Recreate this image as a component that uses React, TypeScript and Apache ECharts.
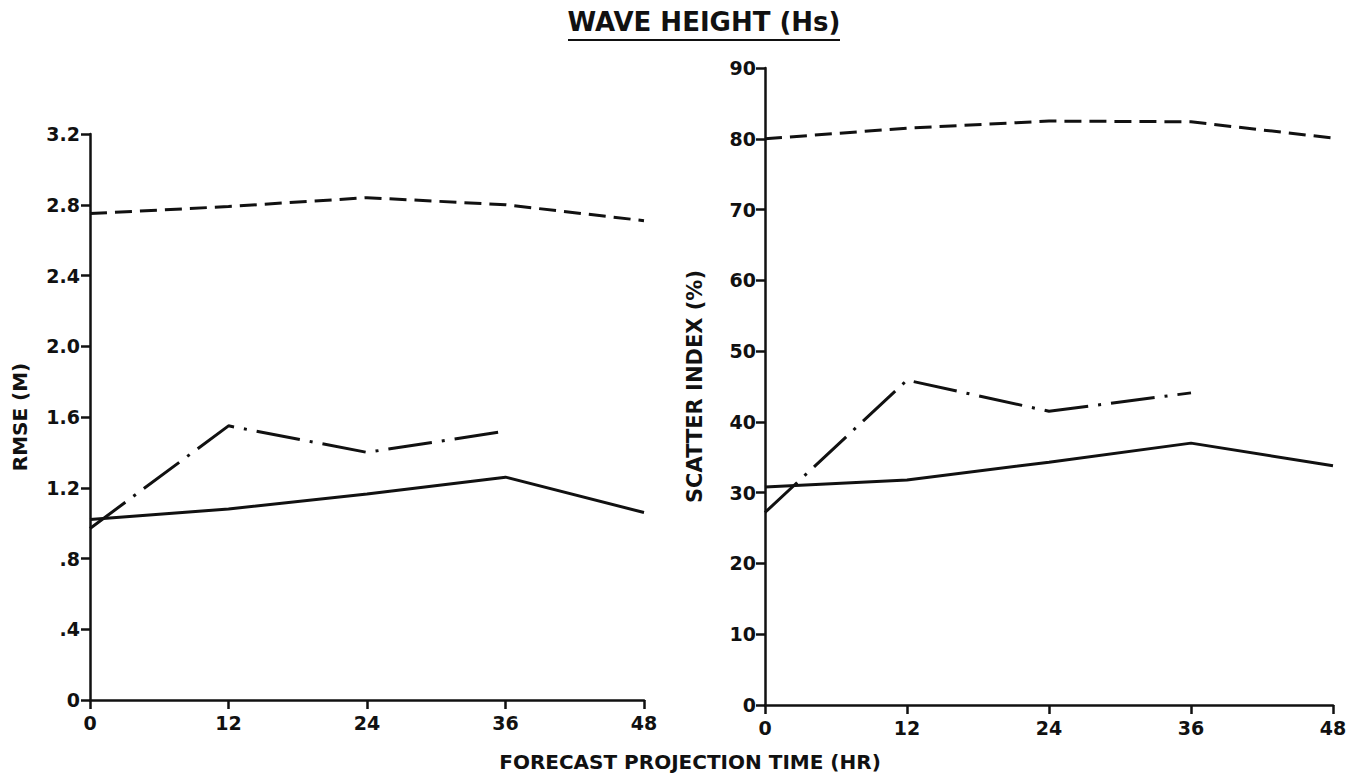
import React, { useEffect, useRef } from "react";
import * as echarts from "echarts";

const hours = [0, 12, 24, 36, 48];
const hoursShort = [0, 12, 24, 36];

const rmseDashed = [2.75, 2.79, 2.84, 2.8, 2.71];
const rmseDashDot = [0.97, 1.55, 1.4, 1.52];
const rmseSolid = [1.02, 1.08, 1.165, 1.26, 1.06];

const siDashed = [80.0, 81.5, 82.5, 82.4, 80.1];
const siDashDot = [27.2, 45.9, 41.5, 44.1];
const siSolid = [30.8, 31.8, 34.3, 37.0, 33.8];

const rmseTickLabels = ["0", ".4", ".8", "1.2", "1.6", "2.0", "2.4", "2.8", "3.2"];
const siTickLabels = ["0", "10", "20", "30", "40", "50", "60", "70", "80", "90"];
const hourTickLabels = ["0", "12", "24", "36", "48"];

const titleText = "WAVE HEIGHT (Hs)";
const xName = "FORECAST PROJECTION TIME (HR)";
const leftName = "RMSE (M)";
const rightName = "SCATTER INDEX (%)";

const FONT = "DejaVu Sans";
const INK = "#111";

const pair = (xs: number[], ys: number[]) => ys.map((y, i) => [xs[i], y]);

export default function App() {
  const ref = useRef<HTMLDivElement>(null);
  useEffect(() => {
    if (!ref.current) return;
    const chart = echarts.init(ref.current, null, { renderer: "svg" });
    const axisLine = { show: true, lineStyle: { color: INK, width: 2.5 } };
    const axisTick = { show: true, length: 9, lineStyle: { color: INK, width: 2.5 } };
    const labelStyle = { color: INK, fontFamily: FONT, fontWeight: "bold" as const, fontSize: 19 };
    const xAxisCommon = (gridIndex: number) => ({
      type: "value" as const,
      gridIndex,
      min: 0,
      max: 48,
      interval: 12,
      axisLine,
      axisTick,
      splitLine: { show: false },
      axisLabel: {
        ...labelStyle,
        margin: 13,
        formatter: (v: number) => hourTickLabels[Math.round(v / 12)] ?? "",
      },
    });
    const dashed = [17, 8];
    const dashDot = [44, 10, 3, 10];
    const mk = (name: string, x: number, data: number[][], type: any) => ({
      name,
      type: "line" as const,
      xAxisIndex: x,
      yAxisIndex: x,
      data,
      symbol: "none",
      lineStyle: { color: INK, width: 3, type },
      z: 5,
    });
    chart.setOption({
      animation: false,
      backgroundColor: "#fff",
      grid: [
        { left: 90, right: 720, top: 134, bottom: 78 },
        { left: 765, right: 31, top: 68, bottom: 73 },
      ],
      xAxis: [xAxisCommon(0), xAxisCommon(1)],
      yAxis: [
        {
          type: "value",
          gridIndex: 0,
          min: 0,
          max: 3.2,
          interval: 0.4,
          axisLine,
          axisTick,
          splitLine: { show: false },
          axisLabel: {
            ...labelStyle,
            margin: 10,
            formatter: (v: number) => rmseTickLabels[Math.round(v / 0.4)] ?? "",
          },
          name: leftName,
          nameLocation: "middle",
          nameGap: 60,
          nameRotate: 90,
          nameTextStyle: { ...labelStyle, fontSize: 20 },
        },
        {
          type: "value",
          gridIndex: 1,
          min: 0,
          max: 90,
          interval: 10,
          axisLine,
          axisTick,
          splitLine: { show: false },
          axisLabel: {
            ...labelStyle,
            margin: 9,
            formatter: (v: number) => siTickLabels[Math.round(v / 10)] ?? "",
          },
          name: rightName,
          nameLocation: "middle",
          nameGap: 60,
          nameRotate: 90,
          nameTextStyle: { ...labelStyle, fontSize: 21 },
        },
      ],
      graphic: [
        {
          type: "text",
          x: 704,
          y: 22,
          style: {
            text: titleText,
            fill: INK,
            font: `bold 26px "${FONT}"`,
            align: "center",
            verticalAlign: "middle",
          },
        },
        {
          type: "line",
          shape: { x1: 568, y1: 40, x2: 840, y2: 40 },
          style: { stroke: INK, lineWidth: 2 },
        },
        {
          type: "text",
          x: 690,
          y: 762,
          style: {
            text: xName,
            fill: INK,
            font: `bold 20px "${FONT}"`,
            align: "center",
            verticalAlign: "middle",
          },
        },
      ],
      series: [
        mk("rmseDashed", 0, pair(hours, rmseDashed), dashed),
        mk("rmseDashDot", 0, pair(hoursShort, rmseDashDot), dashDot),
        mk("rmseSolid", 0, pair(hours, rmseSolid), "solid"),
        mk("siDashed", 1, pair(hours, siDashed), dashed),
        mk("siDashDot", 1, pair(hoursShort, siDashDot), dashDot),
        mk("siSolid", 1, pair(hours, siSolid), "solid"),
      ],
    });
    return () => chart.dispose();
  }, []);
  return (
    <div
      ref={ref}
      style={{ position: "fixed", left: 0, top: 0, width: 1364, height: 778, background: "#fff" }}
    />
  );
}
